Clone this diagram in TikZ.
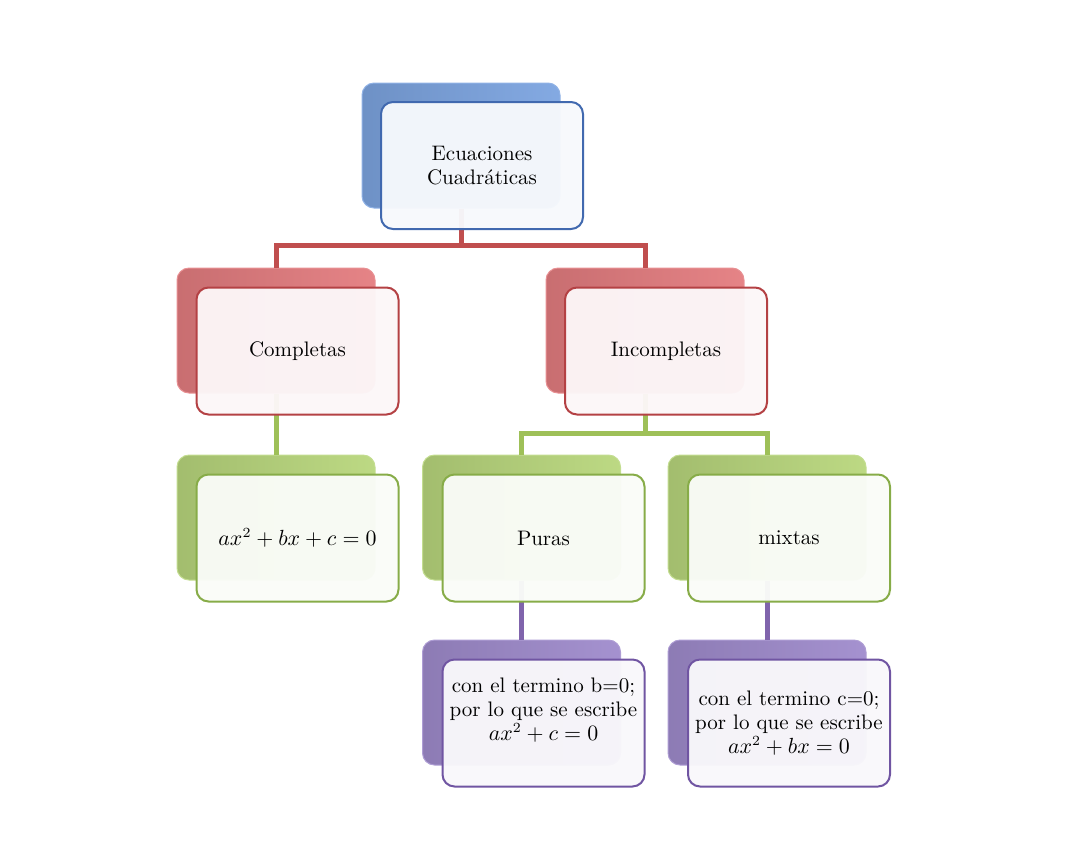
\documentclass[tikz,border=0pt]{standalone}
\usepackage{amsmath}
\usetikzlibrary{positioning,calc}
\definecolor{azul}{RGB}{125,165,225}
\definecolor{azulborde}{RGB}{65,105,175}
\definecolor{rojo}{RGB}{228,125,128}
\definecolor{rojoborde}{RGB}{180,65,68}
\definecolor{rojolinea}{RGB}{192,78,78}
\definecolor{verde}{RGB}{185,215,125}
\definecolor{verdeborde}{RGB}{135,172,72}
\definecolor{verdelinea}{RGB}{158,192,88}
\definecolor{morado}{RGB}{160,140,205}
\definecolor{moradoborde}{RGB}{112,85,162}
\definecolor{moradolinea}{RGB}{128,100,172}

\begin{document}
\begin{tikzpicture}[x=0.5pt,y=-0.5pt,
    fondo/.style={rounded corners=6pt, minimum width=99pt, minimum height=62.5pt,
        inner sep=0pt, draw=#1!85!white, line width=0.5pt,
        left color=#1!88!black, right color=#1!95!white},
    caja/.style={rounded corners=6pt, minimum width=101pt, minimum height=63.5pt,
        inner sep=2pt, draw=#1, line width=1pt, fill=#1!4!white, fill opacity=0.96,
        text opacity=1, align=center, font=\fontsize{10.5}{12}\selectfont},
    enlace/.style={line width=2.5pt, draw=#1}]

    \useasboundingbox (0,0) rectangle (1080,852);

    % Cajas de fondo
    \node[fondo=azul] (ecb) at (461,145.5) {};
    \node[fondo=rojo] (comb) at (276,330.5) {};
    \node[fondo=rojo] (incb) at (645,330.5) {};
    \node[fondo=verde] (fcomb) at (276,517.5) {};
    \node[fondo=verde] (purb) at (521.5,517.5) {};
    \node[fondo=verde] (mixb) at (767,517.5) {};
    \node[fondo=morado] (fpurb) at (521.5,702.5) {};
    \node[fondo=morado] (fmixb) at (767,702.5) {};

    % Enlaces
    \draw[enlace=rojolinea] (ecb.south) -- ++(0,37) -| (comb.north);
    \draw[enlace=rojolinea] (ecb.south) -- ++(0,37) -| (incb.north);
    \draw[enlace=verdelinea] (comb.south) -- (fcomb.north);
    \draw[enlace=verdelinea] (incb.south) -- ++(0,40) -| (purb.north);
    \draw[enlace=verdelinea] (incb.south) -- ++(0,40) -| (mixb.north);
    \draw[enlace=moradolinea] (purb.south) -- (fpurb.north);
    \draw[enlace=moradolinea] (mixb.south) -- (fmixb.north);

    % Cajas con texto
    \node[caja=azulborde] (ec) at ($(ecb)+(21,20)$) {Ecuaciones\\Cuadráticas};
    \node[caja=rojoborde] (com) at ($(comb)+(21.5,20.5)$) {Completas};
    \node[caja=rojoborde] (inc) at ($(incb)+(21,20.5)$) {Incompletas};
    \node[caja=verdeborde] (fcom) at ($(fcomb)+(21.5,20.5)$) {$ax^2+bx+c=0$};
    \node[caja=verdeborde] (pur) at ($(purb)+(22,20.5)$) {Puras};
    \node[caja=verdeborde] (mix) at ($(mixb)+(22,20.5)$) {mixtas};
    \node[caja=moradoborde] (fpur) at ($(fpurb)+(22,20.5)$)
        {con el termino b=0;\\por lo que se escribe\\$ax^2+c=0$\\[2pt]};
    \node[caja=moradoborde] (fmix) at ($(fmixb)+(22,20.5)$)
        {con el termino c=0;\\por lo que se escribe\\$ax^2+bx=0$};

\end{tikzpicture}
\end{document}
